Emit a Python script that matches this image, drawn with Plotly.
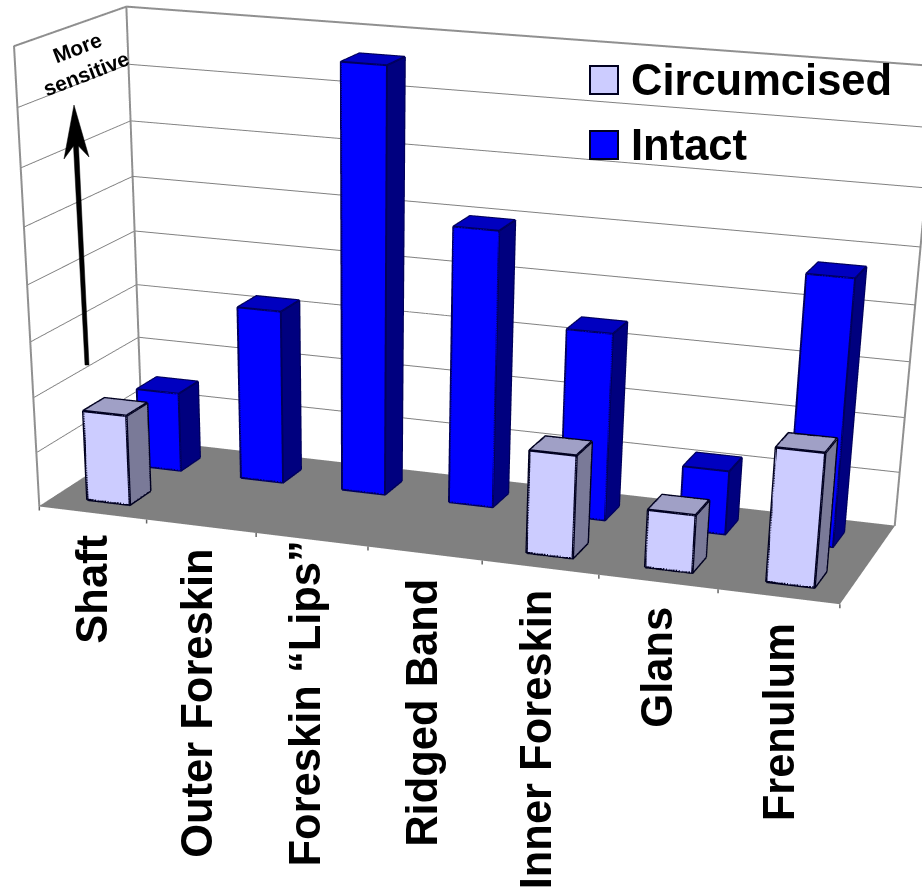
import plotly.graph_objects as go

categories = ["Shaft", "Outer Foreskin", "Foreskin “Lips”", "Ridged Band", "Inner Foreskin", "Glans", "Frenulum"]
circumcised = [1.65, None, None, None, 1.84, 1.03, 2.36]
intact = [1.47, 3.19, 7.62, 4.99, 3.39, 1.16, 4.74]
series_names = ["Circumcised", "Intact"]
z_ticks = list(range(9))

W, H = 922, 2500   # page shows the top 892 px; the taller scene gives the flatter perspective of the original
camera = dict(eye=dict(x=15.166, y=-46.487, z=11.465), center=dict(x=11.180, y=-34.138, z=3.743),
              up=dict(x=-5.561, y=16.583, z=1), projection=dict(type="perspective"))
aspect = dict(x=13.451, y=4.210, z=7.14)
FONT = "Liberation Sans"
LABEL_DX = [-1.5, -4, -7, -3.5, -4.5, -2, 0]
LABEL_DY = [5, 4, 26, 2, 5, 2, 0]
NUDGE_INTACT = [0.01, -0.015, -0.06, -0.07, -0.06, 0.0, -0.07]
NUDGE_CIRC = [0.0, 0.0, 0.0, 0.0, -0.02, 0.0, 0.02]

FACES = [(0,1,5),(0,5,4),(1,2,6),(1,6,5),(4,5,6),(4,6,7),(3,2,6),(3,6,7),(0,3,7),(0,7,4)]
EDGES = [0,1,2,3,0,4,5,6,7,4,None,1,5,None,2,6,None,3,7,None]

def box(cat, row, h, dx):
    x0, x1 = cat + 0.3 + dx, cat + 0.7 + dx
    y0, y1 = row + 0.3, row + 0.7
    return [x0,x1,x1,x0,x0,x1,x1,x0], [y0,y0,y1,y1,y0,y0,y1,y1], [0,0,0,0,h,h,h,h]

fig = go.Figure()

def series(name, values, row, front, side, top, edge, lw, nudge):
    xs, ys, zs, i, j, k, fc = [], [], [], [], [], [], []
    ex, ey, ez = [], [], []
    cols = [front,front,side,side,top,top,side,side,side,side]
    for c, h in enumerate(values):
        if h is None:
            continue
        bx, by, bz = box(c, row, h, nudge[c])
        n = len(xs)
        xs += bx; ys += by; zs += bz
        for f, col in zip(FACES, cols):
            i.append(n+f[0]); j.append(n+f[1]); k.append(n+f[2]); fc.append(col)
        for e in EDGES:
            ex.append(None if e is None else bx[e])
            ey.append(None if e is None else by[e])
            ez.append(None if e is None else bz[e])
    fig.add_trace(go.Mesh3d(name=name, x=xs, y=ys, z=zs, i=i, j=j, k=k, facecolor=fc, flatshading=True, hoverinfo="skip",
                            lighting=dict(ambient=1, diffuse=0, specular=0, roughness=1, fresnel=0)))
    fig.add_trace(go.Scatter3d(x=ex, y=ey, z=ez, mode="lines", line=dict(color=edge, width=lw),
                               hoverinfo="skip", showlegend=False))

series(series_names[1], intact, 1, "#0000FF", "#00007F", "#0000C0", "#00005A", 4, NUDGE_INTACT)
series(series_names[0], circumcised, 0, "#CCCCFF", "#7A7A98", "#A0A0C6", "#000020", 5, NUDGE_CIRC)

X, Y, Z = len(categories), 2, z_ticks[-1]
frame = dict(mode="lines", line=dict(color="#909090", width=4), hoverinfo="skip", showlegend=False)
fig.add_trace(go.Scatter3d(x=[0,0,0,X,X], y=[0,0,Y,Y,Y], z=[0,Z,Z,Z,0], **frame))
fig.add_trace(go.Scatter3d(x=[0,0], y=[Y,Y], z=[0,Z], **frame))

ax = dict(showbackground=True, backgroundcolor="white", showgrid=False, zeroline=False, showticklabels=False,
          title="", showspikes=False, showline=False)
ann = [dict(x=c+0.5, y=0, z=0, text=f"<b>{t}</b>", textangle=-90, showarrow=False, yanchor="top",
            xshift=LABEL_DX[c], yshift=-25+LABEL_DY[c], font=dict(family=FONT, size=43.5, color="black"))
       for c, t in enumerate(categories)]
ann += [dict(x=c, y=0, z=0, text=" ", showarrow=True, arrowhead=0, arrowwidth=1.5, arrowcolor="#666", ax=0, ay=14)
        for c in range(X+1)]

fig.update_layout(width=W, height=H, margin=dict(l=0, r=0, t=0, b=0), paper_bgcolor="white", showlegend=False,
    scene=dict(domain=dict(x=[0,1], y=[0,1]), camera=camera, aspectmode="manual", aspectratio=aspect, annotations=ann,
        xaxis=dict(ax, range=[0,X], tickvals=[]),
        yaxis=dict(ax, range=[0,Y], tickvals=[]),
        zaxis=dict(ax, range=[0,Z], showgrid=True, gridcolor="#808080", gridwidth=2, tickvals=z_ticks, backgroundcolor="#808080")))

def px(x, y):
    return x / W, 1 - y / H

for label, col, y0 in [(series_names[0], "#CCCCFF", 66), (series_names[1], "#0000FF", 131)]:
    a, b = px(590, y0); c, d = px(618, y0 + 28)
    fig.add_shape(type="rect", xref="paper", yref="paper", x0=a, x1=c, y0=b, y1=d, fillcolor=col, line=dict(color="#000020", width=2))
    tx, ty = px(629, y0 + 14)
    fig.add_annotation(xref="paper", yref="paper", x=tx, y=ty, xanchor="left", yanchor="middle", showarrow=False,
                       text=f"<b>{label}</b>", font=dict(family=FONT, size=43.5, color="black"))

for txt, x, y in [("More", 77, 47), ("sensitive", 86, 73)]:
    tx, ty = px(x, y)
    fig.add_annotation(xref="paper", yref="paper", x=tx, y=ty, xanchor="center", yanchor="middle", showarrow=False, textangle=-21,
                       text=f"<b>{txt}</b>", font=dict(family=FONT, size=21, color="black"))

arrow = [(74,105),(89,157),(78.5,146),(89,365),(85,365),(73.5,146),(64,159)]
path = "M " + " L ".join("{:.5f},{:.5f}".format(*px(x, y)) for x, y in arrow) + " Z"
fig.add_shape(type="path", xref="paper", yref="paper", path=path, fillcolor="black", line=dict(color="black", width=0.5))

fig.write_html("out.html", config=dict(displayModeBar=False),
    post_script="document.body.style.margin='0';document.body.style.overflow='hidden';document.documentElement.style.overflow='hidden';")
